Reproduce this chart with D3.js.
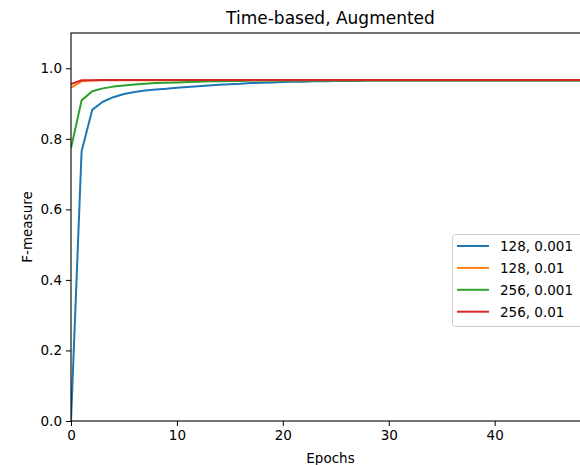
<!DOCTYPE html>
<html><head><meta charset="utf-8">
<script src="https://cdn.jsdelivr.net/npm/d3@7.9.0/dist/d3.min.js"></script>
<style>body{margin:0;background:#fff}svg{display:block;font-family:"DejaVu Sans",sans-serif}</style>
</head><body><svg width="580" height="465"></svg>
<script>
const epochs=d3.range(50);
const seriesNames=['128, 0.001','128, 0.01','256, 0.001','256, 0.01'];
const colors=['#1f77b4','#ff7f0e','#2ca02c','#d62728'];
const b128_001=[0.0,0.765,0.882,0.905,0.918,0.927,0.933,0.937,0.940,0.942,0.945,0.947,0.949,0.951,0.953,0.955,0.956,0.958,0.959,0.960,0.961,0.962,0.962,0.963,0.963,0.964,0.964,0.964,0.965,0.965,0.965,0.965,0.965,0.965,0.965,0.965,0.965,0.965,0.965,0.965,0.965,0.965,0.965,0.965,0.965,0.965,0.965,0.965,0.965,0.965];
const b128_01=[0.945,0.963,0.965,0.966,0.966,0.966,0.966,0.966,0.966,0.966,0.966,0.966,0.966,0.966,0.966,0.966,0.966,0.966,0.966,0.966,0.966,0.966,0.966,0.966,0.966,0.966,0.966,0.966,0.966,0.966,0.966,0.966,0.966,0.966,0.966,0.966,0.966,0.966,0.966,0.966,0.966,0.966,0.966,0.966,0.966,0.966,0.966,0.966,0.966,0.966];
const b256_001=[0.773,0.909,0.935,0.943,0.948,0.951,0.954,0.956,0.958,0.959,0.960,0.961,0.962,0.963,0.963,0.964,0.964,0.965,0.965,0.965,0.965,0.965,0.965,0.965,0.965,0.965,0.965,0.965,0.965,0.965,0.965,0.965,0.965,0.965,0.965,0.965,0.965,0.965,0.965,0.965,0.965,0.965,0.965,0.965,0.965,0.965,0.965,0.965,0.965,0.965];
const b256_01=[0.955,0.966,0.966,0.967,0.967,0.967,0.967,0.967,0.967,0.967,0.967,0.967,0.967,0.967,0.967,0.967,0.967,0.967,0.967,0.967,0.967,0.967,0.967,0.967,0.967,0.967,0.967,0.967,0.967,0.967,0.967,0.967,0.967,0.967,0.967,0.967,0.967,0.967,0.967,0.967,0.967,0.967,0.967,0.967,0.967,0.967,0.967,0.967,0.967,0.967];
const series=[b128_001,b128_01,b256_001,b256_01];
const xTicks=[0,10,20,30,40],yTicks=[0,0.2,0.4,0.6,0.8,1.0];

const svg=d3.select('svg'),L=71,T=33,R=590,B=421;
const x=d3.scaleLinear().domain([0,49]).range([L,R]);
const y=d3.scaleLinear().domain([0,1.1]).range([B,T]);
svg.append('clipPath').attr('id','c').append('rect').attr('x',L).attr('y',T).attr('width',R-L).attr('height',B-T);
const line=d3.line().x((d,i)=>x(epochs[i])).y(d=>y(d));
const g=svg.append('g').attr('clip-path','url(#c)');
series.forEach((s,i)=>g.append('path').datum(s).attr('d',line).attr('fill','none').attr('stroke',colors[i]).attr('stroke-width',2).attr('stroke-linejoin','round'));
const xa=svg.append('g').attr('transform',`translate(0,${B})`).call(d3.axisBottom(x).tickValues(xTicks).tickFormat(d3.format('d')).tickSize(5).tickPadding(4));
const ya=svg.append('g').attr('transform',`translate(${L},0)`).call(d3.axisLeft(y).tickValues(yTicks).tickFormat(d3.format('.1f')).tickSize(5).tickPadding(4));
[xa,ya].forEach(a=>{a.select('.domain').remove();a.selectAll('text').attr('font-size',13.5).attr('fill','#000').attr('font-family','DejaVu Sans');a.selectAll('line').attr('stroke','#000')});
svg.append('rect').attr('x',L).attr('y',T).attr('width',R-L).attr('height',B-T).attr('fill','none').attr('stroke','#000').attr('stroke-width',1.1);
svg.append('text').attr('x',(L+R)/2).attr('y',24).attr('text-anchor','middle').attr('font-size',17).text('Time-based, Augmented');
svg.append('text').attr('x',(L+R)/2).attr('y',463).attr('text-anchor','middle').attr('font-size',13.5).text('Epochs');
svg.append('text').attr('transform',`translate(32,${(T+B)/2}) rotate(-90)`).attr('text-anchor','middle').attr('font-size',13.5).text('F-measure');
const lg=svg.append('g');
lg.append('rect').attr('x',452.5).attr('y',234.5).attr('width',133).attr('height',92).attr('rx',3).attr('fill','#fff').attr('fill-opacity',0.8).attr('stroke','#ccc');
seriesNames.forEach((n,i)=>{const yy=246+i*21.9;
lg.append('line').attr('x1',457).attr('x2',489).attr('y1',yy).attr('y2',yy).attr('stroke',colors[i]).attr('stroke-width',2);
lg.append('text').attr('x',500).attr('y',yy+5).attr('font-size',13.5).text(n);});
</script></body></html>
